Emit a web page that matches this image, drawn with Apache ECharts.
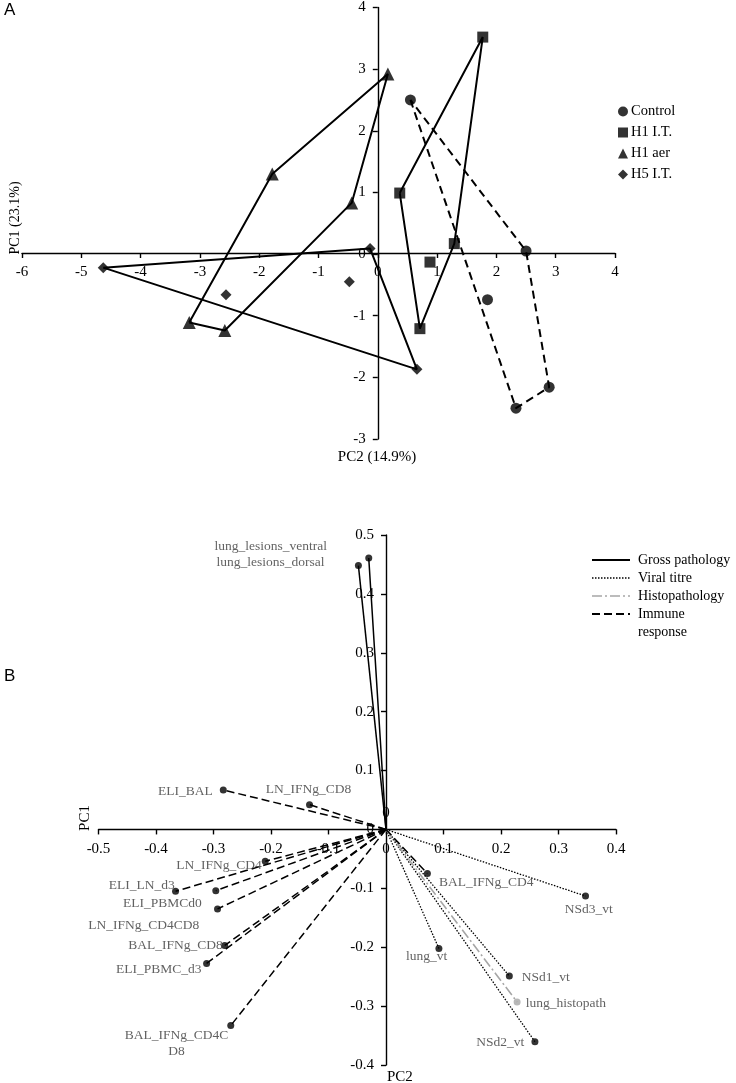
<!DOCTYPE html>
<html><head><meta charset="utf-8">
<script src="https://cdn.jsdelivr.net/npm/echarts@6/dist/echarts.min.js"></script>
<style>html,body{margin:0;padding:0;background:#fff}#c{width:736px;height:1083px}</style>
</head><body><div id="c"></div>
<script>
// ---------- Panel A data (scores) ----------
const groupNames = ['Control', 'H1 I.T.', 'H1 aer', 'H5 I.T.'];
const controlPC1 = [0.55, 2.50, 1.85, 2.89, 2.33];
const controlPC2 = [2.50, 0.05, -0.74, -2.16, -2.50];
const h1itPC1 = [1.77, 0.37, 1.29, 0.88, 0.71];
const h1itPC2 = [3.52, 0.99, 0.17, -0.13, -1.21];
const h1aerPC1 = [0.17, -1.78, -0.44, -3.18, -2.58];
const h1aerPC2 = [2.92, 1.30, 0.83, -1.11, -1.24];
const h5itPC1 = [-4.63, -0.13, -2.56, -0.48, 0.66];
const h5itPC2 = [-0.22, 0.09, -0.66, -0.45, -1.87];

// ---------- Panel B data (loadings) ----------
const grossNames = ['lung_lesions_ventral', 'lung_lesions_dorsal'];
const grossPC1 = [-0.048, -0.030];
const grossPC2 = [0.448, 0.461];
const viralNames = ['NSd3_vt', 'lung_vt', 'NSd1_vt', 'NSd2_vt'];
const viralPC1 = [0.347, 0.092, 0.2145, 0.259];
const viralPC2 = [-0.113, -0.202, -0.249, -0.3605];
const histoNames = ['lung_histopath'];
const histoPC1 = [0.228];
const histoPC2 = [-0.293];
const immuneNames = ['ELI_BAL', 'LN_IFNg_CD8', 'LN_IFNg_CD4', 'ELI_LN_d3', 'ELI_PBMCd0',
  'LN_IFNg_CD4CD8', 'BAL_IFNg_CD8', 'ELI_PBMC_d3', 'BAL_IFNg_CD4CD8', 'BAL_IFNg_CD4'];
const immunePC1 = [-0.283, -0.133, -0.210, -0.366, -0.296, -0.293, -0.2805, -0.312, -0.270, 0.072];
const immunePC2 = [0.067, 0.042, -0.054, -0.105, -0.104, -0.135, -0.197, -0.2275, -0.333, -0.075];
const legendBNames = ['Gross pathology', 'Viral titre', 'Histopathology', 'Immune response'];

// axis ranges
const axA = {xMin: -6, xMax: 4, xInt: 1, yMin: -3, yMax: 4, yInt: 1};
const axB = {xMin: -0.5, xMax: 0.4, xInt: 0.1, yMin: -0.4, yMax: 0.5, yInt: 0.1};

// ---------- layout / style (not data) ----------
const SERIF = "'Liberation Serif','DejaVu Serif',serif";
const SANS = "'Liberation Sans',Arial,sans-serif";
const gridA = {left: 22, top: 5, width: 593, height: 434};
const gridB = {left: 98.5, top: 535, width: 517.5, height: 530};
const labelLayout = {
  lung_lesions_ventral: {align: 'center', offset: [-87.6, -18.7]},
  lung_lesions_dorsal: {align: 'center', offset: [-98.3, 4]},
  ELI_BAL: {align: 'right', offset: [-10.6, 1.6]},
  LN_IFNg_CD8: {align: 'center', offset: [-1, -15.7]},
  LN_IFNg_CD4: {align: 'right', offset: [-3.6, 4]},
  ELI_LN_d3: {align: 'right', offset: [-0.7, -6]},
  ELI_PBMCd0: {align: 'right', offset: [-14, 12.3]},
  LN_IFNg_CD4CD8: {align: 'right', offset: [-18.3, 16.4]},
  BAL_IFNg_CD8: {align: 'right', offset: [-2, 0]},
  ELI_PBMC_d3: {align: 'right', offset: [-5, 6]},
  BAL_IFNg_CD4CD8: {align: 'center', offset: [-54.3, 18]},
  BAL_IFNg_CD4: {align: 'left', offset: [11.7, 8.7]},
  NSd3_vt: {align: 'center', offset: [3.3, 13.3]},
  lung_vt: {align: 'center', offset: [-12.3, 7.7]},
  NSd1_vt: {align: 'left', offset: [12.4, 1.3]},
  NSd2_vt: {align: 'right', offset: [-10.7, 1]},
  lung_histopath: {align: 'left', offset: [8.7, 1.7]}
};
const labelText = {BAL_IFNg_CD4CD8: 'BAL_IFNg_CD4C\nD8'};

function hull(xs, ys) {
  const pts = xs.map((x, i) => [x, ys[i]]).sort((a, b) => a[0] - b[0] || a[1] - b[1]);
  const cross = (o, a, b) => (a[0] - o[0]) * (b[1] - o[1]) - (a[1] - o[1]) * (b[0] - o[0]);
  const lower = [];
  for (const p of pts) { while (lower.length >= 2 && cross(lower[lower.length - 2], lower[lower.length - 1], p) <= 0) lower.pop(); lower.push(p); }
  const upper = [];
  for (let i = pts.length - 1; i >= 0; i--) { const p = pts[i]; while (upper.length >= 2 && cross(upper[upper.length - 2], upper[upper.length - 1], p) <= 0) upper.pop(); upper.push(p); }
  upper.pop(); lower.pop();
  const h = lower.concat(upper); h.push(h[0]); return h;
}

const series = [];
const groupsA = [
  [groupNames[0], controlPC1, controlPC2, 'circle', 11, [8, 5]],
  [groupNames[1], h1itPC1, h1itPC2, 'rect', 11, 'solid'],
  [groupNames[2], h1aerPC1, h1aerPC2, 'triangle', 13, 'solid'],
  [groupNames[3], h5itPC1, h5itPC2, 'diamond', 11, 'solid']
];
groupsA.forEach(([name, xs, ys, sym, size, dash]) => {
  series.push({type: 'line', xAxisIndex: 0, yAxisIndex: 0, data: hull(xs, ys), symbol: 'none',
    lineStyle: {color: '#000', width: 2, type: dash}, silent: true, z: 2});
  series.push({type: 'scatter', name, xAxisIndex: 0, yAxisIndex: 0, symbol: sym, symbolSize: size,
    data: xs.map((x, i) => [x, ys[i]]), itemStyle: {color: '#000'}, z: 3});
});

const groupsB = [
  [grossNames, grossPC1, grossPC2, {color: '#000', width: 1.5, type: 'solid'}, '#000'],
  [viralNames, viralPC1, viralPC2, {color: '#000', width: 1.3, type: [1.5, 1.5]}, '#000'],
  [histoNames, histoPC1, histoPC2, {color: '#a6a6a6', width: 1.6, type: [10, 3, 2, 3]}, '#a6a6a6'],
  [immuneNames, immunePC1, immunePC2, {color: '#000', width: 1.5, type: [8, 4]}, '#000']
];
groupsB.forEach(([names, xs, ys, ls, dotColor]) => {
  names.forEach((n, i) => {
    series.push({type: 'line', xAxisIndex: 1, yAxisIndex: 1, data: [[0, 0], [xs[i], ys[i]]],
      symbol: 'none', lineStyle: ls, silent: true, z: 2});
  });
  series.push({type: 'scatter', xAxisIndex: 1, yAxisIndex: 1, symbolSize: 7, z: 3,
    itemStyle: {color: dotColor},
    data: names.map((n, i) => {
      const L = labelLayout[n];
      return {name: n, value: [xs[i], ys[i]], label: {show: true, position: 'inside', align: L.align,
        verticalAlign: 'middle', offset: L.offset, formatter: labelText[n] || n,
        color: '#3a3a3a', fontFamily: SERIF, fontSize: 13.5, lineHeight: 15.5}};
    })
  });
});

function axisCommon(fs, margin) {
  return {
    axisLine: {onZero: false, lineStyle: {color: '#000', width: 1.4}},
    axisTick: {show: true, length: 5, lineStyle: {color: '#000', width: 1.4}},
    axisLabel: {color: '#000', fontFamily: SERIF, fontSize: fs, margin: margin,
      formatter: v => String(Math.round(v * 10) / 10)},
    splitLine: {show: false}
  };
}
// move axes so they cross at zero (axis offset, labels follow)
function xOffset(ax, g) { return -((0 - ax.yMin) / (ax.yMax - ax.yMin)) * g.height; }
function yOffset(ax, g) { return -((0 - ax.xMin) / (ax.xMax - ax.xMin)) * g.width; }

const legendBY = [560, 578, 596, 614];
const legendBStyles = [
  {stroke: '#000', lineWidth: 1.8, lineDash: null},
  {stroke: '#000', lineWidth: 1.3, lineDash: [1.5, 1.5]},
  {stroke: '#a6a6a6', lineWidth: 1.6, lineDash: [10, 3, 2, 3]},
  {stroke: '#000', lineWidth: 1.8, lineDash: [8, 4]}
];
const graphic = [
  {type: 'text', left: 4, top: 2, style: {text: 'A', font: '17px ' + SANS, fill: '#000'}},
  {type: 'text', left: 4, top: 668, style: {text: 'B', font: '17px ' + SANS, fill: '#000'}},
  {type: 'text', x: 15, y: 218, rotation: Math.PI / 2, style: {text: 'PC1 (23.1%)', font: '14px ' + SERIF, fill: '#000', textAlign: 'center', textVerticalAlign: 'middle'}},
  {type: 'text', x: 377, y: 457, style: {text: 'PC2 (14.9%)', font: '15px ' + SERIF, fill: '#000', textAlign: 'center', textVerticalAlign: 'middle'}},
  {type: 'text', x: 85, y: 818, rotation: Math.PI / 2, style: {text: 'PC1', font: '15px ' + SERIF, fill: '#000', textAlign: 'center', textVerticalAlign: 'middle'}},
  {type: 'text', x: 387, y: 1077, style: {text: 'PC2', font: '15px ' + SERIF, fill: '#000', textAlign: 'left', textVerticalAlign: 'middle'}},
  {type: 'text', x: 386, y: 813, style: {text: '0', font: '15px ' + SERIF, fill: '#000', textAlign: 'center', textVerticalAlign: 'middle'}}
];
legendBNames.forEach((n, i) => {
  const s = legendBStyles[i];
  graphic.push({type: 'line', shape: {x1: 592, y1: legendBY[i], x2: 630, y2: legendBY[i]},
    style: {stroke: s.stroke, lineWidth: s.lineWidth, lineDash: s.lineDash}});
  const parts = n === 'Immune response' ? ['Immune', 'response'] : [n];
  parts.forEach((p, j) => graphic.push({type: 'text', x: 638, y: legendBY[i] + j * 18,
    style: {text: p, font: '14px ' + SERIF, fill: '#000', textAlign: 'left', textVerticalAlign: 'middle'}}));
});

const chart = echarts.init(document.getElementById('c'), null, {renderer: 'canvas'});
chart.setOption({
  animation: false,
  backgroundColor: '#fff',
  grid: [gridA, gridB],
  xAxis: [
    Object.assign({type: 'value', gridIndex: 0, position: 'bottom', offset: xOffset(axA, gridA),
      min: axA.xMin, max: axA.xMax, interval: axA.xInt}, axisCommon(15, 12)),
    Object.assign({type: 'value', gridIndex: 1, position: 'bottom', offset: xOffset(axB, gridB),
      min: axB.xMin, max: axB.xMax, interval: axB.xInt}, axisCommon(15, 12))
  ],
  yAxis: [
    Object.assign({type: 'value', gridIndex: 0, position: 'left', offset: yOffset(axA, gridA),
      min: axA.yMin, max: axA.yMax, interval: axA.yInt}, axisCommon(15, 12)),
    Object.assign({type: 'value', gridIndex: 1, position: 'left', offset: yOffset(axB, gridB),
      min: axB.yMin, max: axB.yMax, interval: axB.yInt}, axisCommon(15, 12))
  ],
  legend: {
    data: groupNames, orient: 'vertical', left: 613, top: 99, itemWidth: 10, itemHeight: 10,
    itemGap: 6, textStyle: {fontFamily: SERIF, fontSize: 14.5, color: '#000', padding: [0, 0, 0, -2]},
    selectedMode: false
  },
  graphic: graphic,
  series: series
});
</script></body></html>
